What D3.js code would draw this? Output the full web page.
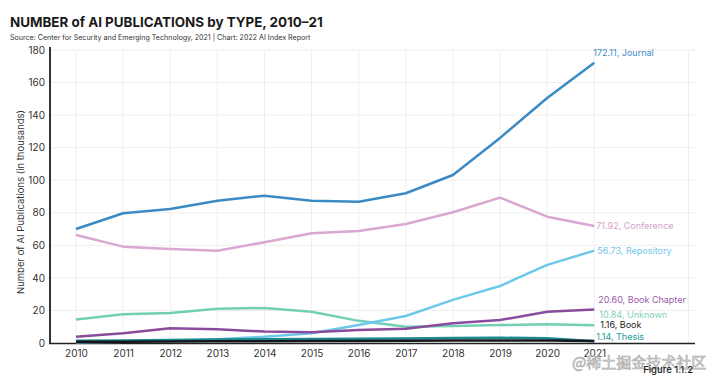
<!DOCTYPE html>
<html>
<head>
<meta charset="utf-8">
<script src="https://cdn.jsdelivr.net/npm/d3@7"></script>
<style>
  html, body { margin: 0; padding: 0; background: #fff; }
  svg { display: block; font-family: Inter, "Open Sans", sans-serif; }
</style>
</head>
<body>
<svg id="chart" width="720" height="383"></svg>
<script>
const years = [2010, 2011, 2012, 2013, 2014, 2015, 2016, 2017, 2018, 2019, 2020, 2021];
const yTicks = [0, 20, 40, 60, 80, 100, 120, 140, 160, 180];

const journal     = [70.0, 79.7, 82.3, 87.4, 90.5, 87.4, 86.8, 92.0, 103.2, 126.0, 150.5, 172.11];
const conference  = [66.3, 59.2, 57.7, 56.7, 61.9, 67.4, 68.8, 73.1, 80.3, 89.3, 77.6, 71.92];
const repository  = [0.4, 0.8, 1.4, 2.3, 3.8, 6.0, 11.0, 16.6, 26.5, 35.0, 48.0, 56.73];
const bookChapter = [3.9, 6.0, 9.0, 8.4, 7.0, 6.6, 8.0, 8.8, 12.1, 14.1, 19.2, 20.60];
const unknown     = [14.5, 17.6, 18.4, 21.1, 21.5, 19.2, 13.6, 10.0, 10.4, 11.0, 11.5, 10.84];
const book        = [0.7, 0.8, 0.9, 1.0, 1.1, 1.2, 1.3, 1.4, 1.5, 1.6, 1.5, 1.16];
const thesis      = [1.4, 1.6, 1.9, 2.1, 2.3, 2.5, 2.6, 2.8, 3.0, 3.2, 2.9, 1.14];

const seriesNames = ["Journal", "Conference", "Repository", "Book Chapter", "Unknown", "Book", "Thesis"];
const seriesValues = [journal, conference, repository, bookChapter, unknown, book, thesis];
const lineColors  = ["#3b8ac4", "#d9a7cf", "#6ec8ea", "#8a4b9c", "#72cfb6", "#16161f", "#1b8a8e"];
const labelColors = ["#3f8cc6", "#d4a2ca", "#6fc6e8", "#9c5bab", "#7fd3bd", "#1a1a1a", "#23999a"];
// label nudges (pixels): [dx, dy]
const labelNudge = [[-1, -10], [2, 0], [3, 0], [4, -9.5], [5, -11], [6, -16], [2, -4]];

const svg = d3.select("#chart");
const x = d3.scaleLinear().domain([2009.448, 2023.18]).range([50, 697]);
const y = d3.scaleLinear().domain([0, 180]).range([343, 50]);

// gridlines
const grid = svg.append("g");
grid.selectAll("line.h").data(yTicks.filter(d => d > 0)).join("line")
  .attr("x1", 50).attr("x2", 697)
  .attr("y1", d => y(d)).attr("y2", d => y(d))
  .attr("stroke", "#efefef").attr("stroke-width", 1);
grid.selectAll("line.v").data(years.concat([2023])).join("line")
  .attr("x1", d => x(d)).attr("x2", d => x(d))
  .attr("y1", y(180)).attr("y2", y(0))
  .attr("stroke", "#efefef").attr("stroke-width", 1);

// axes
const yAxis = svg.append("g").attr("transform", "translate(50,0)")
  .call(d3.axisLeft(y).tickValues(yTicks).tickSize(0).tickPadding(5));
yAxis.select(".domain").remove();
yAxis.selectAll("text").attr("font-size", 10).attr("fill", "#333")
  .attr("font-family", "Inter, sans-serif");

const xAxis = svg.append("g").attr("transform", `translate(0,${y(0)})`)
  .call(d3.axisBottom(x).tickValues(years).tickFormat(d3.format("d")).tickSize(0).tickPadding(7));
xAxis.select(".domain").remove();
xAxis.selectAll("text").attr("font-size", 10).attr("fill", "#333")
  .attr("font-family", "Inter, sans-serif");

svg.append("line").attr("x1", 50).attr("x2", 50).attr("y1", 47).attr("y2", 344)
  .attr("stroke", "#333").attr("stroke-width", 2);
svg.append("line").attr("x1", 49).attr("x2", 695).attr("y1", 343.5).attr("y2", 343.5)
  .attr("stroke", "#222").attr("stroke-width", 1.5);

// lines (draw back to front)
const line = d3.line().x((d, i) => x(years[i])).y(d => y(d));
const order = [1, 0, 4, 2, 3, 6, 5];
order.forEach(k => {
  svg.append("path").datum(seriesValues[k])
    .attr("d", line)
    .attr("fill", "none")
    .attr("stroke", lineColors[k])
    .attr("stroke-width", 2.5)
    .attr("stroke-linejoin", "round");
});

// end labels
seriesNames.forEach((name, k) => {
  const v = seriesValues[k][seriesValues[k].length - 1];
  svg.append("text")
    .attr("x", x(2021) + labelNudge[k][0])
    .attr("y", y(v) + labelNudge[k][1])
    .attr("dy", "0.35em")
    .attr("font-size", 9)
    .attr("fill", labelColors[k])
    .text(`${d3.format(".2f")(v)}, ${name}`);
});

// titles
svg.append("text").attr("x", 10).attr("y", 27)
  .attr("font-size", 13.4).attr("font-weight", 700).attr("fill", "#1a1a1a")
  .text("NUMBER of AI PUBLICATIONS by TYPE, 2010–21");
svg.append("text").attr("x", 10).attr("y", 39.5)
  .attr("font-size", 7.1).attr("fill", "#333")
  .text("Source: Center for Security and Emerging Technology, 2021 | Chart: 2022 AI Index Report");

svg.append("text")
  .attr("transform", "translate(24,202) rotate(-90)")
  .attr("text-anchor", "middle")
  .attr("font-size", 9.5).attr("fill", "#333")
  .text("Number of AI Publications (in thousands)");

svg.append("text").attr("x", 572).attr("y", 368)
  .attr("font-size", 15).attr("fill", "#e4e4e4").attr("stroke", "#a8a8a8").attr("stroke-width", 0.6)
  .attr("font-family", "'Noto Sans CJK SC', sans-serif")
  .text("@稀土掘金技术社区");

svg.append("text").attr("x", 693).attr("y", 373)
  .attr("text-anchor", "end")
  .attr("font-size", 9.5).attr("font-weight", 500).attr("fill", "#222")
  .text("Figure 1.1.2");
</script>
</body>
</html>
